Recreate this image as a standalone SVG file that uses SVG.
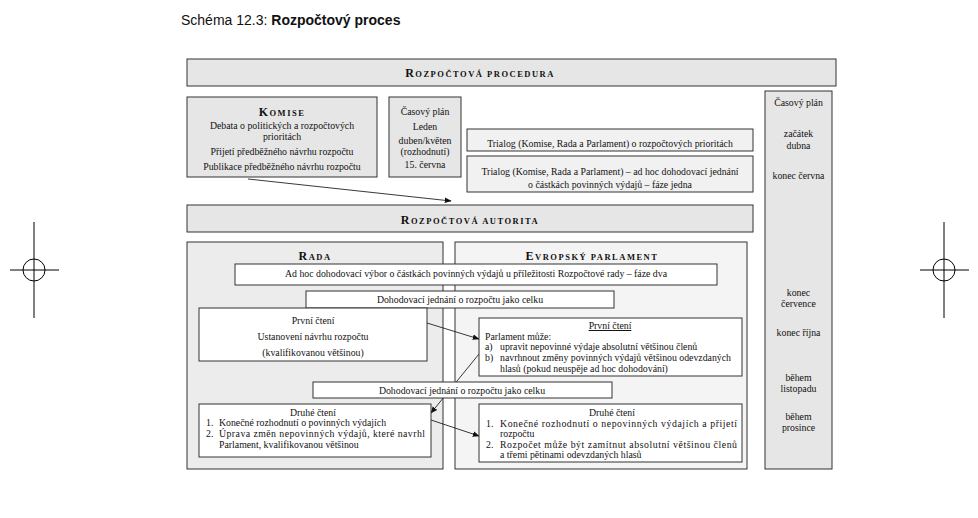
<svg xmlns="http://www.w3.org/2000/svg" width="978" height="518" viewBox="0 0 978 518">
<style>
.bx{stroke:#333;stroke-width:1}
.w{fill:#fff}
.g{fill:#e6e6e6}
.g2{fill:#f1f1f1}
.gr{fill:#ececec}
.ge{fill:#f4f4f4}
.t{font-family:"Liberation Serif","DejaVu Serif",serif;font-size:9.8px;fill:#111}
.c{text-anchor:middle}
.sc{font-family:"Liberation Serif","DejaVu Serif",serif;font-weight:bold;fill:#111;font-size:8.5px;letter-spacing:1.5px;text-anchor:middle}
.big{font-size:12px}
.ln{stroke:#222;stroke-width:0.9;fill:none}
.crop{stroke:#000;stroke-width:1;fill:none}
</style>
<defs>
<marker id="ah" viewBox="0 0 10 10" refX="9" refY="5" markerWidth="7" markerHeight="7" orient="auto" markerUnits="userSpaceOnUse">
<path d="M0,1 L10,5 L0,9 z" fill="#111"/>
</marker>
</defs>
<rect width="978" height="518" fill="#fff"/>

<g id="title">
<text x="181" y="25" font-family="Liberation Sans, Arial, sans-serif" font-size="14" fill="#111">Schéma 12.3: <tspan font-weight="bold">Rozpočtový proces</tspan></text>
</g>

<g id="crop-marks">
<circle class="crop" cx="34" cy="270" r="11"/>
<line class="crop" x1="34" y1="222" x2="34" y2="318"/>
<line class="crop" x1="10" y1="270" x2="59" y2="270"/>
<circle class="crop" cx="944" cy="270" r="11"/>
<line class="crop" x1="944" y1="222" x2="944" y2="318"/>
<line class="crop" x1="920" y1="270" x2="969" y2="270"/>
</g>

<g id="procedura">
<rect class="bx g" x="187" y="59" width="649" height="27"/>
<text class="sc" x="480" y="77"><tspan class="big">R</tspan>OZPOČTOVÁ PROCEDURA</text>
</g>

<g id="casovy-plan-sloupec">
<rect class="bx g" x="765" y="91" width="67" height="378"/>
<text class="t c" x="798.5" y="106">Časový plán</text>
<text class="t c" x="798.5" y="137">začátek</text>
<text class="t c" x="798.5" y="149">dubna</text>
<text class="t c" x="798.5" y="179">konec června</text>
<text class="t c" x="798.5" y="296">konec</text>
<text class="t c" x="798.5" y="307">července</text>
<text class="t c" x="798.5" y="336">konec října</text>
<text class="t c" x="798.5" y="381">během</text>
<text class="t c" x="798.5" y="392">listopadu</text>
<text class="t c" x="798.5" y="420">během</text>
<text class="t c" x="798.5" y="431">prosince</text>
</g>

<g id="komise">
<rect class="bx g" x="187" y="97" width="190" height="80"/>
<text class="sc" x="282" y="116"><tspan class="big">K</tspan>OMISE</text>
<text class="t c" x="282" y="128.5">Debata o politických a rozpočtových</text>
<text class="t c" x="282" y="139.5">prioritách</text>
<text class="t c" x="282" y="155">Přijetí předběžného návrhu rozpočtu</text>
<text class="t c" x="282" y="170">Publikace předběžného návrhu rozpočtu</text>
</g>

<g id="casovy-plan">
<rect class="bx g" x="389" y="97" width="72" height="80"/>
<text class="t c" x="425" y="115">Časový plán</text>
<text class="t c" x="425" y="130">Leden</text>
<text class="t c" x="425" y="144">duben/květen</text>
<text class="t c" x="425" y="155">(rozhodnutí)</text>
<text class="t c" x="425" y="168">15. června</text>
</g>

<g id="trialog1">
<rect class="bx g2" x="467" y="129" width="286" height="22"/>
<text class="t c" x="610" y="147">Trialog (Komise, Rada a Parlament) o rozpočtových prioritách</text>
</g>

<g id="trialog2">
<rect class="bx g2" x="467" y="156" width="286" height="36"/>
<text class="t c" x="610" y="175">Trialog (Komise, Rada a Parlament) – ad hoc dohodovací jednání</text>
<text class="t c" x="610" y="188">o částkách povinných výdajů – fáze jedna</text>
</g>

<g id="autorita">
<rect class="bx g" x="187" y="205" width="566" height="27"/>
<text class="sc" x="470" y="224"><tspan class="big">R</tspan>OZPOČTOVÁ AUTORITA</text>
</g>

<g id="rada">
<rect class="bx gr" x="187" y="242" width="256" height="227"/>
<text class="sc" x="315" y="260"><tspan class="big">R</tspan>ADA</text>
</g>

<g id="parlament">
<rect class="bx ge" x="455" y="242" width="292" height="227"/>
<text class="sc" x="592" y="260"><tspan class="big">E</tspan>VROPSKÝ PARLAMENT</text>
</g>

<g id="connectors">
<line class="ln" x1="248" y1="179" x2="451" y2="201" marker-end="url(#ah)"/>
<line class="ln" x1="427" y1="323" x2="479" y2="339" marker-end="url(#ah)"/>
<line class="ln" x1="479" y1="354" x2="431" y2="413" marker-end="url(#ah)"/>
<line class="ln" x1="431" y1="420" x2="479" y2="436" marker-end="url(#ah)"/>
</g>

<g id="adhoc">
<rect class="bx w" x="235" y="264" width="482" height="21"/>
<text class="t c" x="476" y="277">Ad hoc dohodovací výbor o částkách povinných výdajů u příležitosti Rozpočtové rady – fáze dva</text>
</g>

<g id="dohodovaci1">
<rect class="bx w" x="306" y="291" width="308" height="17"/>
<text class="t c" x="460" y="303">Dohodovací jednání o rozpočtu jako celku</text>
</g>

<g id="rada-prvni">
<rect class="bx w" x="199" y="308" width="228" height="53"/>
<text class="t c" x="313" y="324">První čtení</text>
<text class="t c" x="313" y="340">Ustanovení návrhu rozpočtu</text>
<text class="t c" x="313" y="356">(kvalifikovanou většinou)</text>
</g>

<g id="ep-prvni">
<rect class="bx w" x="479" y="318" width="263" height="58"/>
<text class="t c" x="610" y="329" text-decoration="underline">První čtení</text>
<text class="t" x="485" y="340">Parlament může:</text>
<text class="t" x="485" y="350">a)</text>
<text class="t" x="500" y="350">upravit nepovinné výdaje absolutní většinou členů</text>
<text class="t" x="485" y="361">b)</text>
<text class="t" x="500" y="361">navrhnout změny povinných výdajů většinou odevzdaných</text>
<text class="t" x="500" y="372">hlasů (pokud neuspěje ad hoc dohodování)</text>
</g>

<g id="dohodovaci2">
<rect class="bx w" x="313" y="382" width="299" height="16"/>
<text class="t c" x="462" y="394">Dohodovací jednání o rozpočtu jako celku</text>
</g>

<g id="rada-druhe">
<rect class="bx w" x="199" y="404" width="232" height="53"/>
<text class="t c" x="313" y="416">Druhé čtení</text>
<text class="t" x="206" y="426">1.</text>
<text class="t" x="219" y="426">Konečné rozhodnutí o povinných výdajích</text>
<text class="t" x="206" y="437">2.</text>
<text class="t" x="219" y="437" textLength="206" lengthAdjust="spacing">Úprava změn nepovinných výdajů, které navrhl</text>
<text class="t" x="219" y="448">Parlament, kvalifikovanou většinou</text>
</g>

<g id="ep-druhe">
<rect class="bx w" x="479" y="404" width="263" height="58"/>
<text class="t c" x="612" y="416">Druhé čtení</text>
<text class="t" x="486" y="427">1.</text>
<text class="t" x="500" y="427" textLength="237" lengthAdjust="spacing">Konečné rozhodnutí o nepovinných výdajích a přijetí</text>
<text class="t" x="500" y="437">rozpočtu</text>
<text class="t" x="486" y="448">2.</text>
<text class="t" x="500" y="448" textLength="237" lengthAdjust="spacing">Rozpočet může být zamítnut absolutní většinou členů</text>
<text class="t" x="500" y="458">a třemi pětinami odevzdaných hlasů</text>
</g>
</svg>
